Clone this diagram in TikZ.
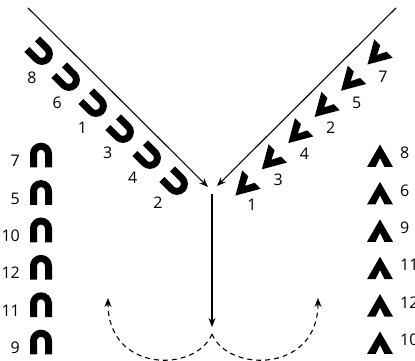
\documentclass[tikz,border=0pt]{standalone}
\usepackage{fontspec}
\setmainfont{Open Sans}
\usetikzlibrary{arrows.meta}
\tikzset{
  archglyph/.pic={\draw[line width=7pt] (-7.5,-12.5) -- (-7.5,1.25) arc (180:0:7.5) -- (7.5,-12.5);},
  chevglyph/.pic={\fill (-13,-11) -- (0,11.5) -- (13,-11) -- (4.5,-11) -- (0,-2) -- (-4.5,-11) -- cycle;}
}
\begin{document}
\begin{tikzpicture}[x=1pt,y=1pt,>={Stealth[length=9pt,width=7pt]},
    numlabel/.style={font=\fontsize{16}{18}\selectfont,inner sep=0pt},
    flow/.style={line width=1.1pt,->},
    backflow/.style={flow,dash pattern=on 5pt off 4pt}]
\useasboundingbox (0,0) rectangle (415,361);
% columns
\foreach \n [count=\i from 0] in {7,5,10,12,11,9} {
  \pic at (41,{206-37.4*\i}) {archglyph};
  \node[numlabel,anchor=east] (archnum\n) at (20,{200-37.4*\i}) {\n};
}
\foreach \n [count=\i from 0] in {8,6,9,11,12,10} {
  \pic at (380,{205-37.4*\i}) {chevglyph};
  \node[numlabel,anchor=west] (chevnum\n) at (400,{208-37.4*\i}) {\n};
}
% diagonals
\foreach \n [count=\i from 0] in {8,6,1,3,4,2} {
  \pic[rotate=-135] at ({41+27*\i},{308-26*\i}) {archglyph};
  \node[numlabel] (diagarch\n) at ({32+25.2*\i},{283-25*\i}) {\n};
}
\foreach \n [count=\i from 0] in {7,5,2,4,3,1} {
  \pic[rotate=135] at ({375.6-26.4*\i},{304.6-26.2*\i}) {chevglyph};
  \node[numlabel] (diagchev\n) at ({383-26.2*\i},{284-25.6*\i}) {\n};
}
% arrows
\coordinate (ltop) at (28,353);
\coordinate (lend) at (208,174);
\coordinate (rtop) at (396,353);
\coordinate (rend) at (217,175);
\coordinate (vtop) at (212,167);
\coordinate (vend) at (212,34);
\coordinate (split) at (212,27);
\coordinate (lback) at (108,63);
\coordinate (rback) at (318,63);
\draw[flow] (ltop) -- (lend);
\draw[flow] (rtop) -- (rend);
\draw[flow] (vtop) -- (vend);
\draw[backflow] (split) .. controls (196,-12) and (108,-12) .. (lback);
\draw[backflow] (split) .. controls (228,-12) and (318,-12) .. (rback);
\end{tikzpicture}
\end{document}
